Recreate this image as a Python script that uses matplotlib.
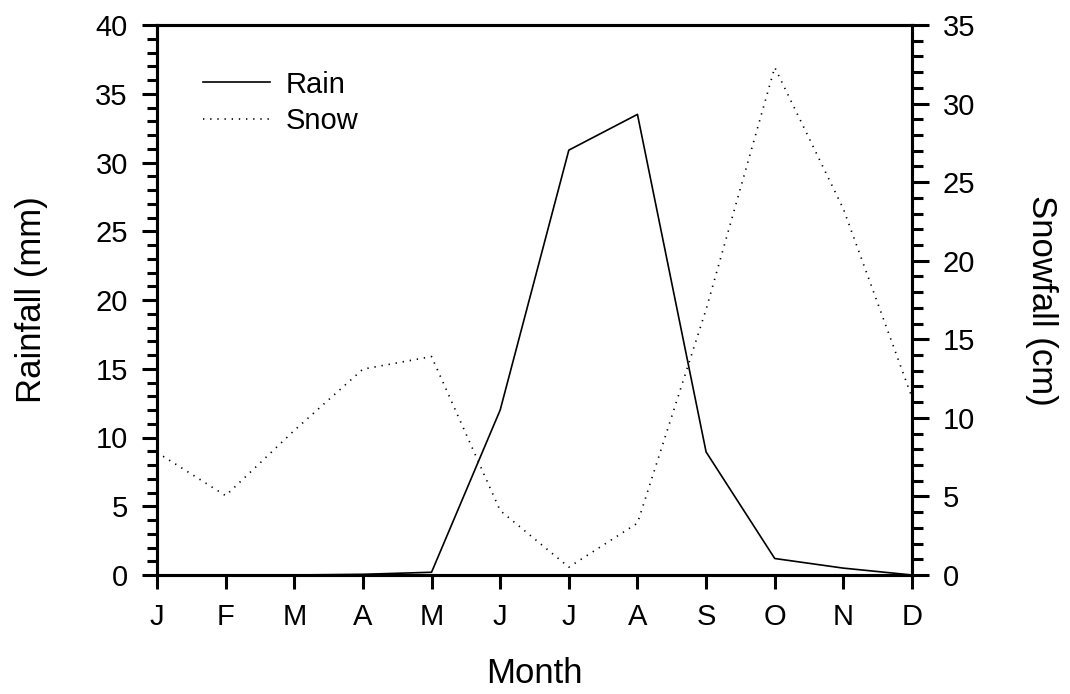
import matplotlib
matplotlib.use("Agg")
import matplotlib.pyplot as plt
from matplotlib.ticker import MultipleLocator

months = ["J", "F", "M", "A", "M", "J", "J", "A", "S", "O", "N", "D"]
rain_mm = [0, 0, 0, 0.05, 0.2, 12.0, 30.9, 33.5, 8.95, 1.2, 0.5, 0]
snow_cm = [7.8, 5.05, 9.2, 13.1, 13.9, 4.1, 0.5, 3.3, 16.9, 32.3, 23.3, 11.3]

plt.rcParams['font.family'] = ['Liberation Sans', 'DejaVu Sans']

fig = plt.figure(figsize=(10.70, 6.94), dpi=100)
ax = fig.add_axes([157/1070, 1-575/694, (912-157)/1070, (575-25)/694])
ax2 = ax.twinx()

x = list(range(len(months)))
l1, = ax.plot(x, rain_mm, color='black', lw=1.2, label='Rain')
l2, = ax2.plot(x, snow_cm, color='black', lw=1.2, linestyle=(0, (0.8, 3.5)), label='Snow')

ax.set_xlim(0, 11)
ax.set_ylim(0, 40)
ax2.set_ylim(0, 35)

ax.set_xticks(x)
ax.set_xticklabels(months)
ax.yaxis.set_major_locator(MultipleLocator(5))
ax.yaxis.set_minor_locator(MultipleLocator(1))
ax2.yaxis.set_major_locator(MultipleLocator(5))
ax2.yaxis.set_minor_locator(MultipleLocator(1))

fs = 21
ax.tick_params(axis='x', which='major', direction='out', length=10, width=2.2, labelsize=fs, pad=10)
ax.tick_params(axis='y', which='major', direction='out', length=11, width=2.2, labelsize=fs, pad=10)
ax.tick_params(axis='y', which='minor', direction='out', length=7, width=2.2)
ax2.tick_params(axis='y', which='major', direction='out', length=12, width=2.2, labelsize=fs, pad=10)
ax2.tick_params(axis='y', which='minor', direction='out', length=8, width=2.2)

for a in (ax, ax2):
    for s in a.spines.values():
        s.set_linewidth(2.2)

lfs = 25
ax.set_xlabel('Month', fontsize=lfs, labelpad=19)
ax.set_ylabel('Rainfall (mm)', fontsize=lfs, labelpad=34)
ax2.set_ylabel('Snowfall (cm)', fontsize=lfs, rotation=270, va='bottom', labelpad=36)

leg = ax.legend(handles=[l1, l2], loc='upper left', bbox_to_anchor=(0.0256, 0.965),
                frameon=False, fontsize=fs, handlelength=2.3, handletextpad=0.55,
                labelspacing=0.3)

fig.savefig('out.png', dpi=100)
